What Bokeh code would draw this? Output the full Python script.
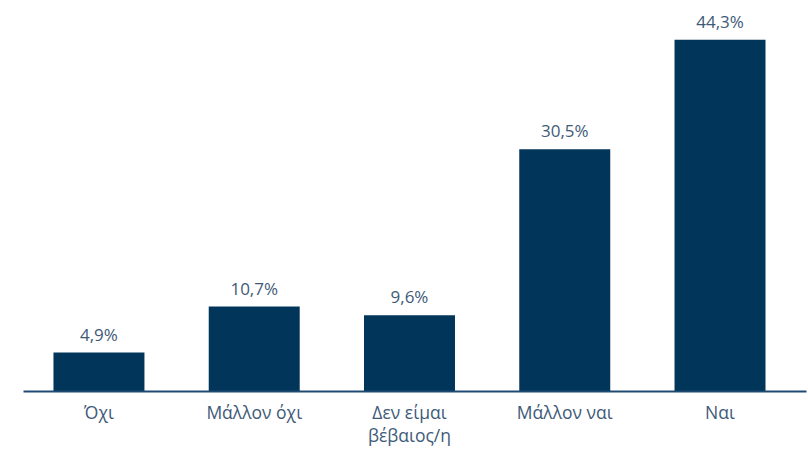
from bokeh.plotting import figure
from bokeh.models import ColumnDataSource, Range1d, FixedTicker, LabelSet
from bokeh.core.properties import value
from bokeh.embed import file_html
from bokeh.resources import INLINE

categories = ["Όχι", "Μάλλον όχι", "Δεν είμαι\nβέβαιος/η", "Μάλλον ναι", "Ναι"]
values = [4.9, 10.7, 9.6, 30.5, 44.3]
value_labels = ["4,9%", "10,7%", "9,6%", "30,5%", "44,3%"]

BAR = "#02355a"
TEXT = "#3e5a78"
FONT = "Open Sans"

xs = list(range(len(categories)))
src = ColumnDataSource(dict(x=xs, top=values, lab=value_labels))

p = figure(width=808, height=449, output_backend="svg", toolbar_location=None,
           x_range=Range1d(-0.486, 4.557), y_range=Range1d(0, 49.25),
           min_border_left=23, min_border_right=2, min_border_top=0, min_border_bottom=58)

p.vbar(x="x", top="top", width=0.586, bottom=0, source=src, color=BAR, line_color=None)

labels = LabelSet(x="x", y="top", text="lab", source=src, text_align="center",
                  text_baseline="alphabetic", y_offset=12, text_font=value(FONT),
                  text_font_size=value("17px"), text_color=TEXT)
p.add_layout(labels)

p.xgrid.visible = False
p.ygrid.visible = False
p.yaxis.visible = False
p.outline_line_color = None
p.background_fill_color = "white"
p.border_fill_color = "white"

ax = p.xaxis[0]
ax.ticker = FixedTicker(ticks=xs)
ax.major_label_overrides = {i: c for i, c in zip(xs, categories)}
ax.major_label_standoff = 8
ax.major_label_text_font = FONT
ax.major_label_text_font_size = "17.5px"
ax.major_label_text_color = TEXT
ax.major_label_text_line_height = 0.97
ax.major_tick_line_color = None
ax.minor_tick_line_color = None
ax.major_tick_out = 0
ax.major_tick_in = 0
ax.axis_line_color = "#1f4b73"
ax.axis_line_width = 2

open("out.html", "w").write(file_html(p, INLINE))
